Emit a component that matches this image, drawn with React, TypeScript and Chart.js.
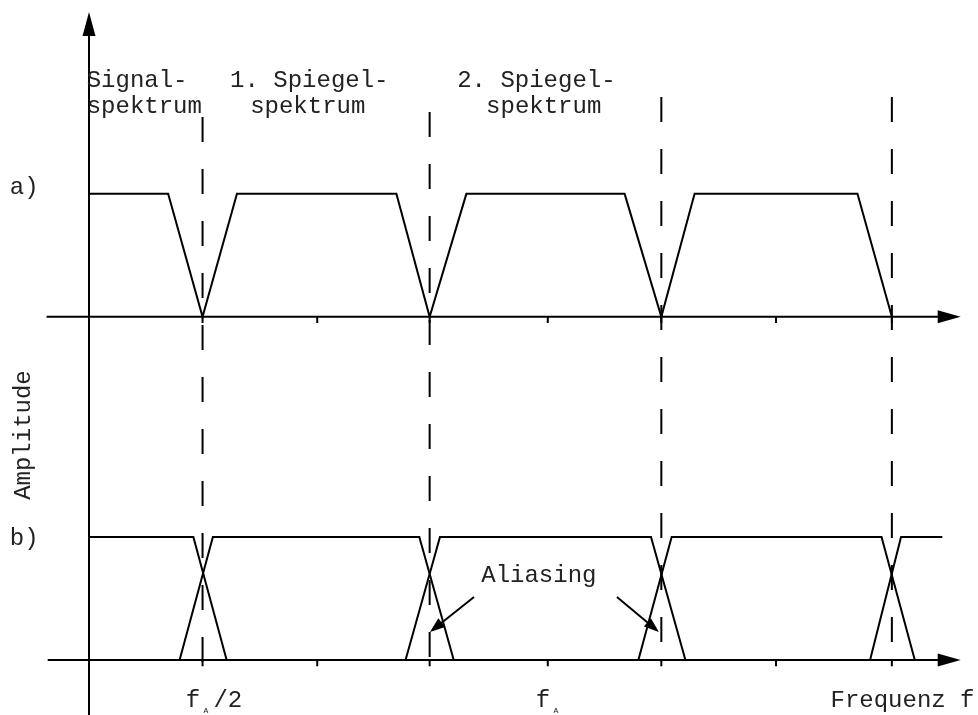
import React, { useEffect, useRef } from "react";
import { Chart, registerables } from "chart.js";

Chart.register(...registerables);

// ---- scale ranges (frequency in units, amplitude in units) ----
const X_MIN = -0.776;
const X_MAX = 7.751;
const Y_MIN = -0.447;
const Y_MAX = 5.366;

// panel a) sits above panel b) on the same amplitude scale
const A_BASE = 2.79;

// a) spectrum without overlap
const spectrumAFreq = [0, 0.69, 0.99, 1.29, 2.68, 2.97, 3.29, 4.67, 4.99, 5.28, 6.7, 7.0];
const spectrumAAmp = [1, 1, 0, 1, 1, 0, 1, 1, 0, 1, 1, 0];

// b) overlapping spectra (aliasing)
const bandsBFreq = [
  [0, 0.91, 1.2],
  [0.79, 1.08, 2.88, 3.18],
  [2.76, 3.06, 4.9, 5.2],
  [4.79, 5.08, 6.91, 7.2],
  [6.81, 7.08, 7.44],
];
const bandsBAmp = [
  [1, 1, 0],
  [0, 1, 1, 0],
  [0, 1, 1, 0],
  [0, 1, 1, 0],
  [0, 1, 1],
];

// dashed marks at multiples of fA/2
const markFreq = [0.99, 2.97, 4.99, 7.0];
const markTop = [4.415, 4.455, 4.577, 4.577];
const markBottom = -0.05;

// small ticks on the frequency axes
const tickFreq = [1.99, 4.0, 5.99];

// axes
const AXIS_X_START = -0.37;
const AXIS_X_END = 7.6;
const AXIS_Y_TOP = 5.268;

// aliasing arrows [fromU, fromV, toU, toV]
const aliasArrows = [
  [3.357, 0.512, 2.973, 0.228],
  [4.603, 0.512, 4.969, 0.228],
];

const FONT = '"Liberation Mono", "Courier New", monospace';
const TEXT_COLOR = "#222";

function line(points: { x: number; y: number }[], extra: any = {}) {
  return {
    data: points,
    showLine: true,
    pointRadius: 0,
    borderColor: "#000",
    borderWidth: 2,
    fill: false,
    tension: 0,
    clip: false,
    ...extra,
  };
}

const annotationPlugin = {
  id: "annot",
  afterDatasetsDraw(chart: any) {
    const ctx = chart.ctx as CanvasRenderingContext2D;
    const xs = chart.scales.x;
    const ys = chart.scales.y;
    const X = (u: number) => xs.getPixelForValue(u);
    const Y = (v: number) => ys.getPixelForValue(v);

    const head = (tx: number, ty: number, fx: number, fy: number, len: number, hw: number) => {
      const ang = Math.atan2(ty - fy, tx - fx);
      const bx = tx - len * Math.cos(ang);
      const by = ty - len * Math.sin(ang);
      const px = -Math.sin(ang) * hw;
      const py = Math.cos(ang) * hw;
      ctx.beginPath();
      ctx.moveTo(tx, ty);
      ctx.lineTo(bx + px, by + py);
      ctx.lineTo(bx - px, by - py);
      ctx.closePath();
      ctx.fillStyle = "#000";
      ctx.fill();
    };

    ctx.save();
    // axis arrowheads
    head(X(0), Y(AXIS_Y_TOP), X(0), Y(0), 24, 6.5);
    head(X(AXIS_X_END), Y(A_BASE), X(0), Y(A_BASE), 23, 6.5);
    head(X(AXIS_X_END), Y(0), X(0), Y(0), 23, 6.5);
    // aliasing arrowheads
    for (const a of aliasArrows) {
      head(X(a[2]), Y(a[3]), X(a[0]), Y(a[1]), 15, 5.5);
    }

    const text = (s: string, u: number, v: number, align: CanvasTextAlign = "left", size = 24) => {
      ctx.font = `${size}px ${FONT}`;
      ctx.fillStyle = TEXT_COLOR;
      ctx.textAlign = align;
      ctx.textBaseline = "alphabetic";
      ctx.fillText(s, X(u), Y(v));
    };

    text("Signal-", -0.02, 4.66);
    text("spektrum", -0.02, 4.447);
    text("1. Spiegel-", 1.23, 4.66);
    text("spektrum", 1.405, 4.447);
    text("2. Spiegel-", 3.21, 4.66);
    text("spektrum", 3.462, 4.447);
    text("a)", -0.69, 3.79);
    text("b)", -0.69, 0.935);
    text("Aliasing", 3.42, 0.634);

    // frequency labels
    text("f", 0.907, -0.382, "center");
    text("A", 1.02, -0.43, "center", 8);
    text("/2", 1.085, -0.382, "left");
    text("f", 3.958, -0.382, "center");
    text("A", 4.07, -0.43, "center", 8);
    text("Frequenz f", 6.465, -0.382, "left");

    // rotated y label
    ctx.save();
    ctx.translate(X(-0.514), Y(1.829));
    ctx.rotate(-Math.PI / 2);
    ctx.font = `24px ${FONT}`;
    ctx.fillStyle = TEXT_COLOR;
    ctx.textAlign = "center";
    ctx.textBaseline = "alphabetic";
    ctx.fillText("Amplitude", 0, 0);
    ctx.restore();

    ctx.restore();
  },
};

export default function App() {
  const ref = useRef<HTMLCanvasElement | null>(null);

  useEffect(() => {
    if (!ref.current) return;
    const datasets: any[] = [];

    // axes
    datasets.push(line([{ x: 0, y: Y_MIN }, { x: 0, y: AXIS_Y_TOP - 0.1 }]));
    datasets.push(line([{ x: AXIS_X_START, y: A_BASE }, { x: AXIS_X_END - 0.1, y: A_BASE }]));
    datasets.push(line([{ x: AXIS_X_START + 0.01, y: 0 }, { x: AXIS_X_END - 0.1, y: 0 }]));

    // ticks
    for (const t of tickFreq.concat(markFreq)) {
      datasets.push(line([{ x: t, y: A_BASE }, { x: t, y: A_BASE - 0.05 }]));
      datasets.push(line([{ x: t, y: 0 }, { x: t, y: -0.05 }]));
    }

    // dashed marks
    markFreq.forEach((f, i) => {
      datasets.push(
        line([{ x: f, y: markTop[i] }, { x: f, y: markBottom }], { borderDash: [25, 27] })
      );
    });

    // spectrum a)
    datasets.push(
      line(spectrumAFreq.map((f, i) => ({ x: f, y: A_BASE + spectrumAAmp[i] })))
    );

    // spectra b)
    bandsBFreq.forEach((band, b) => {
      datasets.push(line(band.map((f, i) => ({ x: f, y: bandsBAmp[b][i] }))));
    });

    // aliasing arrow shafts
    for (const a of aliasArrows) {
      datasets.push(line([{ x: a[0], y: a[1] }, { x: a[2] + (a[0] - a[2]) * 0.2, y: a[3] + (a[1] - a[3]) * 0.2 }]));
    }

    const chart = new Chart(ref.current, {
      type: "scatter",
      data: { datasets },
      options: {
        animation: false,
        responsive: true,
        maintainAspectRatio: false,
        events: [],
        layout: { padding: 0 },
        plugins: { legend: { display: false }, tooltip: { enabled: false } },
        scales: {
          x: { type: "linear", display: false, min: X_MIN, max: X_MAX },
          y: { type: "linear", display: false, min: Y_MIN, max: Y_MAX },
        },
      },
      plugins: [annotationPlugin],
    });
    return () => chart.destroy();
  }, []);

  return (
    <div style={{ position: "fixed", left: 0, top: 0, width: 978, height: 715, background: "#fff" }}>
      <canvas ref={ref} />
    </div>
  );
}
